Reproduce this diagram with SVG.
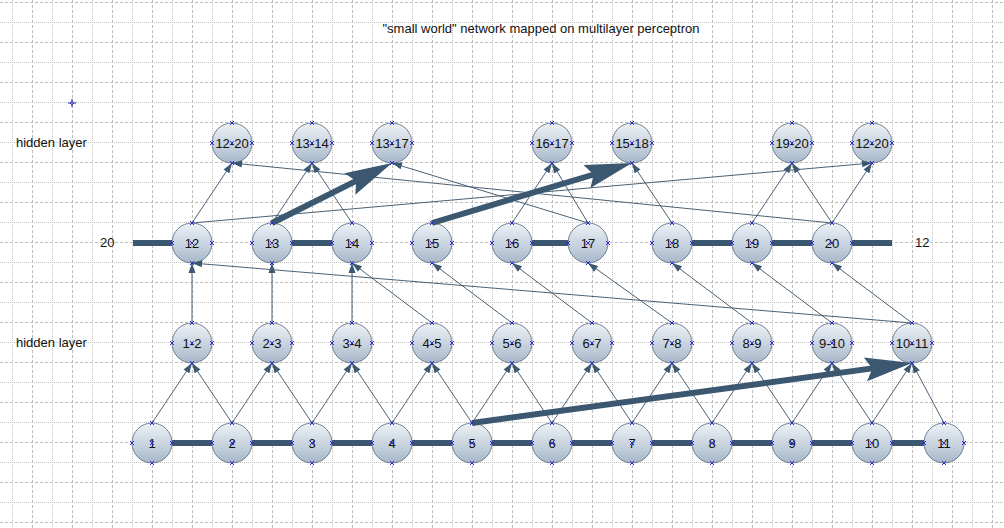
<svg xmlns="http://www.w3.org/2000/svg" xmlns:xlink="http://www.w3.org/1999/xlink" width="1004" height="528" viewBox="0 0 1004 528">
<style>
text{font-family:"Liberation Sans",Arial,sans-serif;font-size:13px;fill:#111}
.lbl{text-anchor:middle}
.node circle{fill:url(#ng);stroke:#6f8191;stroke-width:1}
.mk{fill:none;stroke:#2a2ad0;stroke-width:1}
.thin{fill:none;stroke:#4b6174;stroke-width:1;marker-end:url(#ah)}
.thick{fill:none;stroke:#3b5870;stroke-width:6;marker-end:url(#bh)}
.bus{fill:none;stroke:#3b5870;stroke-width:6}
</style>
<defs>
<pattern id="grid" patternUnits="userSpaceOnUse" x="0" y="0" width="40" height="40">
<path d="M32.5,0V40M0,2.5H40" stroke="#bdbdbd" stroke-width="1" stroke-dasharray="3,2" fill="none"/>
<path d="M12.5,0V40M0,22.5H40" stroke="#c4c4c4" stroke-width="1" stroke-dasharray="1,1" fill="none"/>
</pattern>
<linearGradient id="ng" x1="0" y1="0" x2="0" y2="1">
<stop offset="0" stop-color="#eef2f6"/>
<stop offset="1" stop-color="#a7b8ca"/>
</linearGradient>
<marker id="ah" markerUnits="userSpaceOnUse" markerWidth="14" markerHeight="10" viewBox="-11 -5 12 10" refX="0" refY="0" orient="auto">
<path d="M0,0L-10,-3.5L-10,3.5Z" fill="#3b5870"/>
</marker>
<marker id="bh" markerUnits="userSpaceOnUse" markerWidth="50" markerHeight="28" viewBox="-8 -14 50 28" refX="0" refY="0" orient="auto">
<path d="M0,0L-7,-12L40,0L-7,12Z" fill="#3b5870"/>
</marker>
<path id="x" d="M-2,-2L2,2M-2,2L2,-2" class="mk"/>
</defs>
<rect width="1004" height="528" fill="#ffffff"/>
<rect width="1004" height="528" fill="url(#grid)"/>
<text x="541" y="33" class="lbl">"small world" network mapped on multilayer perceptron</text>
<g id="cursor" stroke="#1a1ab0" stroke-width="1" fill="none">
<path d="M72,99V107M68,103H76"/>
<circle cx="72" cy="103" r="1.3" fill="#fff"/>
</g>
<text x="16" y="147">hidden layer</text>
<text x="16" y="347">hidden layer</text>
<text x="100" y="247">20</text>
<text x="915" y="247">12</text>
<g id="bus-lines">
<path class="bus" d="M133,243H192M272,243H352M512,243H588M672,243H892M152,443H944"/>
</g>
<g id="nodes">
<g id="n1" class="node"><circle cx="152" cy="443" r="20"/><text x="152" y="448" class="lbl">1</text></g>
<g id="n2" class="node"><circle cx="232" cy="443" r="20"/><text x="232" y="448" class="lbl">2</text></g>
<g id="n3" class="node"><circle cx="312" cy="443" r="20"/><text x="312" y="448" class="lbl">3</text></g>
<g id="n4" class="node"><circle cx="392" cy="443" r="20"/><text x="392" y="448" class="lbl">4</text></g>
<g id="n5" class="node"><circle cx="472" cy="443" r="20"/><text x="472" y="448" class="lbl">5</text></g>
<g id="n6" class="node"><circle cx="552" cy="443" r="20"/><text x="552" y="448" class="lbl">6</text></g>
<g id="n7" class="node"><circle cx="632" cy="443" r="20"/><text x="632" y="448" class="lbl">7</text></g>
<g id="n8" class="node"><circle cx="712" cy="443" r="20"/><text x="712" y="448" class="lbl">8</text></g>
<g id="n9" class="node"><circle cx="792" cy="443" r="20"/><text x="792" y="448" class="lbl">9</text></g>
<g id="n10" class="node"><circle cx="872" cy="443" r="20"/><text x="872" y="448" class="lbl">10</text></g>
<g id="n11" class="node"><circle cx="944" cy="443" r="20"/><text x="944" y="448" class="lbl">11</text></g>
<g id="h1-2" class="node"><circle cx="192" cy="343" r="20"/><text x="192" y="348" class="lbl">1-2</text></g>
<g id="h2-3" class="node"><circle cx="272" cy="343" r="20"/><text x="272" y="348" class="lbl">2-3</text></g>
<g id="h3-4" class="node"><circle cx="352" cy="343" r="20"/><text x="352" y="348" class="lbl">3-4</text></g>
<g id="h4-5" class="node"><circle cx="432" cy="343" r="20"/><text x="432" y="348" class="lbl">4-5</text></g>
<g id="h5-6" class="node"><circle cx="512" cy="343" r="20"/><text x="512" y="348" class="lbl">5-6</text></g>
<g id="h6-7" class="node"><circle cx="592" cy="343" r="20"/><text x="592" y="348" class="lbl">6-7</text></g>
<g id="h7-8" class="node"><circle cx="672" cy="343" r="20"/><text x="672" y="348" class="lbl">7-8</text></g>
<g id="h8-9" class="node"><circle cx="752" cy="343" r="20"/><text x="752" y="348" class="lbl">8-9</text></g>
<g id="h9-10" class="node"><circle cx="832" cy="343" r="20"/><text x="832" y="348" class="lbl">9-10</text></g>
<g id="h10-11" class="node"><circle cx="912" cy="343" r="20"/><text x="912" y="348" class="lbl">10-11</text></g>
<g id="n12" class="node"><circle cx="192" cy="243" r="20"/><text x="192" y="248" class="lbl">12</text></g>
<g id="n13" class="node"><circle cx="272" cy="243" r="20"/><text x="272" y="248" class="lbl">13</text></g>
<g id="n14" class="node"><circle cx="352" cy="243" r="20"/><text x="352" y="248" class="lbl">14</text></g>
<g id="n15" class="node"><circle cx="432" cy="243" r="20"/><text x="432" y="248" class="lbl">15</text></g>
<g id="n16" class="node"><circle cx="512" cy="243" r="20"/><text x="512" y="248" class="lbl">16</text></g>
<g id="n17" class="node"><circle cx="588" cy="243" r="20"/><text x="588" y="248" class="lbl">17</text></g>
<g id="n18" class="node"><circle cx="672" cy="243" r="20"/><text x="672" y="248" class="lbl">18</text></g>
<g id="n19" class="node"><circle cx="752" cy="243" r="20"/><text x="752" y="248" class="lbl">19</text></g>
<g id="n20" class="node"><circle cx="832" cy="243" r="20"/><text x="832" y="248" class="lbl">20</text></g>
<g id="t12-20a" class="node"><circle cx="232" cy="143" r="20"/><text x="232" y="148" class="lbl">12-20</text></g>
<g id="t13-14" class="node"><circle cx="312" cy="143" r="20"/><text x="312" y="148" class="lbl">13-14</text></g>
<g id="t13-17" class="node"><circle cx="392" cy="143" r="20"/><text x="392" y="148" class="lbl">13-17</text></g>
<g id="t16-17" class="node"><circle cx="552" cy="143" r="20"/><text x="552" y="148" class="lbl">16-17</text></g>
<g id="t15-18" class="node"><circle cx="632" cy="143" r="20"/><text x="632" y="148" class="lbl">15-18</text></g>
<g id="t19-20" class="node"><circle cx="792" cy="143" r="20"/><text x="792" y="148" class="lbl">19-20</text></g>
<g id="t12-20b" class="node"><circle cx="872" cy="143" r="20"/><text x="872" y="148" class="lbl">12-20</text></g>
</g>
<g id="connectors">
<path class="thin" d="M152,423L192,363"/>
<path class="thin" d="M232,423L192,363"/>
<path class="thin" d="M232,423L272,363"/>
<path class="thin" d="M312,423L272,363"/>
<path class="thin" d="M312,423L352,363"/>
<path class="thin" d="M392,423L352,363"/>
<path class="thin" d="M392,423L432,363"/>
<path class="thin" d="M472,423L432,363"/>
<path class="thin" d="M472,423L512,363"/>
<path class="thin" d="M552,423L512,363"/>
<path class="thin" d="M552,423L592,363"/>
<path class="thin" d="M632,423L592,363"/>
<path class="thin" d="M632,423L672,363"/>
<path class="thin" d="M712,423L672,363"/>
<path class="thin" d="M712,423L752,363"/>
<path class="thin" d="M792,423L752,363"/>
<path class="thin" d="M792,423L832,363"/>
<path class="thin" d="M872,423L832,363"/>
<path class="thin" d="M872,423L912,363"/>
<path class="thin" d="M944,423L912,363"/>
<path class="thin" d="M192,323L192,263"/>
<path class="thin" d="M272,323L272,263"/>
<path class="thin" d="M352,323L352,263"/>
<path class="thin" d="M432,323L352,263"/>
<path class="thin" d="M512,323L432,263"/>
<path class="thin" d="M592,323L512,263"/>
<path class="thin" d="M672,323L588,263"/>
<path class="thin" d="M752,323L672,263"/>
<path class="thin" d="M832,323L752,263"/>
<path class="thin" d="M912,323L832,263"/>
<path class="thin" d="M912,323L192,263"/>
<path class="thin" d="M192,223L232,163"/>
<path class="thin" d="M832,223L232,163"/>
<path class="thin" d="M272,223L312,163"/>
<path class="thin" d="M352,223L312,163"/>
<path class="thin" d="M588,223L392,163"/>
<path class="thin" d="M512,223L552,163"/>
<path class="thin" d="M588,223L552,163"/>
<path class="thin" d="M672,223L632,163"/>
<path class="thin" d="M752,223L792,163"/>
<path class="thin" d="M832,223L792,163"/>
<path class="thin" d="M832,223L872,163"/>
<path class="thin" d="M192,223L872,163"/>
<path class="thick" d="M272,223L356.2,180.9"/>
<path class="thick" d="M432,223L593.7,174.5"/>
<path class="thick" d="M472,423L872.4,368.4"/>
</g>
<g id="connection-points">
<path class="mk" d="M150,441l4,4m0-4l-4,4M150,421l4,4m0-4l-4,4M150,461l4,4m0-4l-4,4M130,441l4,4m0-4l-4,4M170,441l4,4m0-4l-4,4
M230,441l4,4m0-4l-4,4M230,421l4,4m0-4l-4,4M230,461l4,4m0-4l-4,4M210,441l4,4m0-4l-4,4M250,441l4,4m0-4l-4,4
M310,441l4,4m0-4l-4,4M310,421l4,4m0-4l-4,4M310,461l4,4m0-4l-4,4M290,441l4,4m0-4l-4,4M330,441l4,4m0-4l-4,4
M390,441l4,4m0-4l-4,4M390,421l4,4m0-4l-4,4M390,461l4,4m0-4l-4,4M370,441l4,4m0-4l-4,4M410,441l4,4m0-4l-4,4
M470,441l4,4m0-4l-4,4M470,421l4,4m0-4l-4,4M470,461l4,4m0-4l-4,4M450,441l4,4m0-4l-4,4M490,441l4,4m0-4l-4,4
M550,441l4,4m0-4l-4,4M550,421l4,4m0-4l-4,4M550,461l4,4m0-4l-4,4M530,441l4,4m0-4l-4,4M570,441l4,4m0-4l-4,4
M630,441l4,4m0-4l-4,4M630,421l4,4m0-4l-4,4M630,461l4,4m0-4l-4,4M610,441l4,4m0-4l-4,4M650,441l4,4m0-4l-4,4
M710,441l4,4m0-4l-4,4M710,421l4,4m0-4l-4,4M710,461l4,4m0-4l-4,4M690,441l4,4m0-4l-4,4M730,441l4,4m0-4l-4,4
M790,441l4,4m0-4l-4,4M790,421l4,4m0-4l-4,4M790,461l4,4m0-4l-4,4M770,441l4,4m0-4l-4,4M810,441l4,4m0-4l-4,4
M870,441l4,4m0-4l-4,4M870,421l4,4m0-4l-4,4M870,461l4,4m0-4l-4,4M850,441l4,4m0-4l-4,4M890,441l4,4m0-4l-4,4
M942,441l4,4m0-4l-4,4M942,421l4,4m0-4l-4,4M942,461l4,4m0-4l-4,4M922,441l4,4m0-4l-4,4M962,441l4,4m0-4l-4,4
M190,341l4,4m0-4l-4,4M190,321l4,4m0-4l-4,4M190,361l4,4m0-4l-4,4M170,341l4,4m0-4l-4,4M210,341l4,4m0-4l-4,4
M270,341l4,4m0-4l-4,4M270,321l4,4m0-4l-4,4M270,361l4,4m0-4l-4,4M250,341l4,4m0-4l-4,4M290,341l4,4m0-4l-4,4
M350,341l4,4m0-4l-4,4M350,321l4,4m0-4l-4,4M350,361l4,4m0-4l-4,4M330,341l4,4m0-4l-4,4M370,341l4,4m0-4l-4,4
M430,341l4,4m0-4l-4,4M430,321l4,4m0-4l-4,4M430,361l4,4m0-4l-4,4M410,341l4,4m0-4l-4,4M450,341l4,4m0-4l-4,4
M510,341l4,4m0-4l-4,4M510,321l4,4m0-4l-4,4M510,361l4,4m0-4l-4,4M490,341l4,4m0-4l-4,4M530,341l4,4m0-4l-4,4
M590,341l4,4m0-4l-4,4M590,321l4,4m0-4l-4,4M590,361l4,4m0-4l-4,4M570,341l4,4m0-4l-4,4M610,341l4,4m0-4l-4,4
M670,341l4,4m0-4l-4,4M670,321l4,4m0-4l-4,4M670,361l4,4m0-4l-4,4M650,341l4,4m0-4l-4,4M690,341l4,4m0-4l-4,4
M750,341l4,4m0-4l-4,4M750,321l4,4m0-4l-4,4M750,361l4,4m0-4l-4,4M730,341l4,4m0-4l-4,4M770,341l4,4m0-4l-4,4
M830,341l4,4m0-4l-4,4M830,321l4,4m0-4l-4,4M830,361l4,4m0-4l-4,4M810,341l4,4m0-4l-4,4M850,341l4,4m0-4l-4,4
M910,341l4,4m0-4l-4,4M910,321l4,4m0-4l-4,4M910,361l4,4m0-4l-4,4M890,341l4,4m0-4l-4,4M930,341l4,4m0-4l-4,4
M190,241l4,4m0-4l-4,4M190,221l4,4m0-4l-4,4M190,261l4,4m0-4l-4,4M170,241l4,4m0-4l-4,4M210,241l4,4m0-4l-4,4
M270,241l4,4m0-4l-4,4M270,221l4,4m0-4l-4,4M270,261l4,4m0-4l-4,4M250,241l4,4m0-4l-4,4M290,241l4,4m0-4l-4,4
M350,241l4,4m0-4l-4,4M350,221l4,4m0-4l-4,4M350,261l4,4m0-4l-4,4M330,241l4,4m0-4l-4,4M370,241l4,4m0-4l-4,4
M430,241l4,4m0-4l-4,4M430,221l4,4m0-4l-4,4M430,261l4,4m0-4l-4,4M410,241l4,4m0-4l-4,4M450,241l4,4m0-4l-4,4
M510,241l4,4m0-4l-4,4M510,221l4,4m0-4l-4,4M510,261l4,4m0-4l-4,4M490,241l4,4m0-4l-4,4M530,241l4,4m0-4l-4,4
M586,241l4,4m0-4l-4,4M586,221l4,4m0-4l-4,4M586,261l4,4m0-4l-4,4M566,241l4,4m0-4l-4,4M606,241l4,4m0-4l-4,4
M670,241l4,4m0-4l-4,4M670,221l4,4m0-4l-4,4M670,261l4,4m0-4l-4,4M650,241l4,4m0-4l-4,4M690,241l4,4m0-4l-4,4
M750,241l4,4m0-4l-4,4M750,221l4,4m0-4l-4,4M750,261l4,4m0-4l-4,4M730,241l4,4m0-4l-4,4M770,241l4,4m0-4l-4,4
M830,241l4,4m0-4l-4,4M830,221l4,4m0-4l-4,4M830,261l4,4m0-4l-4,4M810,241l4,4m0-4l-4,4M850,241l4,4m0-4l-4,4
M230,141l4,4m0-4l-4,4M230,121l4,4m0-4l-4,4M230,161l4,4m0-4l-4,4M210,141l4,4m0-4l-4,4M250,141l4,4m0-4l-4,4
M310,141l4,4m0-4l-4,4M310,121l4,4m0-4l-4,4M310,161l4,4m0-4l-4,4M290,141l4,4m0-4l-4,4M330,141l4,4m0-4l-4,4
M390,141l4,4m0-4l-4,4M390,121l4,4m0-4l-4,4M390,161l4,4m0-4l-4,4M370,141l4,4m0-4l-4,4M410,141l4,4m0-4l-4,4
M550,141l4,4m0-4l-4,4M550,121l4,4m0-4l-4,4M550,161l4,4m0-4l-4,4M530,141l4,4m0-4l-4,4M570,141l4,4m0-4l-4,4
M630,141l4,4m0-4l-4,4M630,121l4,4m0-4l-4,4M630,161l4,4m0-4l-4,4M610,141l4,4m0-4l-4,4M650,141l4,4m0-4l-4,4
M790,141l4,4m0-4l-4,4M790,121l4,4m0-4l-4,4M790,161l4,4m0-4l-4,4M770,141l4,4m0-4l-4,4M810,141l4,4m0-4l-4,4
M870,141l4,4m0-4l-4,4M870,121l4,4m0-4l-4,4M870,161l4,4m0-4l-4,4M850,141l4,4m0-4l-4,4M890,141l4,4m0-4l-4,4"/>
</g>
</svg>
